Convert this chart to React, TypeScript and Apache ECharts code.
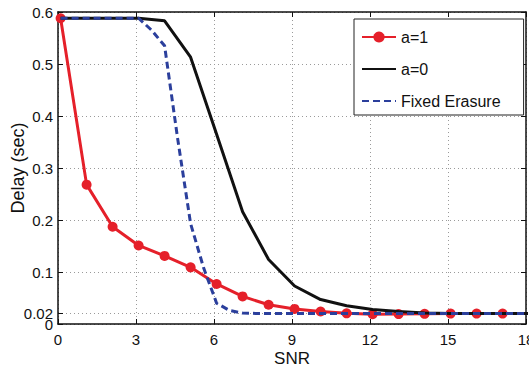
import React, { useEffect, useRef } from "react";
import * as echarts from "echarts";

const snr = [0.1, 1.1, 2.1, 3.1, 4.1, 5.1, 6.1, 7.1, 8.1, 9.1, 10.1, 11.1, 12.1, 13.1, 14.1, 15.1, 16.1, 17.1, 18.1];
const delayA1 = [0.588, 0.268, 0.187, 0.151, 0.131, 0.109, 0.077, 0.053, 0.037, 0.029, 0.024, 0.0205, 0.0188, 0.019, 0.0195, 0.02, 0.02, 0.02, 0.02];
const delayA0 = [0.588, 0.588, 0.588, 0.588, 0.583, 0.513, 0.365, 0.216, 0.124, 0.073, 0.047, 0.035, 0.028, 0.024, 0.021, 0.02, 0.02, 0.02, 0.02];
const snrFixed = [0.1, 1.1, 2.1, 3.1, 3.6, 4.1, 4.6, 5.1, 5.6, 6.1, 6.6, 7.1, 7.6, 8.1, 9.1, 10.1, 11.1, 12.1, 13.1, 14.1, 15.1, 16.1, 17.1, 18.1];
const delayFixed = [0.588, 0.588, 0.588, 0.588, 0.565, 0.535, 0.357, 0.193, 0.108, 0.04, 0.026, 0.021, 0.0203, 0.02, 0.02, 0.02, 0.02, 0.02, 0.02, 0.02, 0.02, 0.02, 0.02, 0.02];
const yTicks = [0, 0.1, 0.2, 0.3, 0.4, 0.5, 0.6];
const yExtraTicks = [0.02];
const yAllTicks = [0, 0.02, 0.1, 0.2, 0.3, 0.4, 0.5, 0.6];
const seriesNames = ["a=1", "a=0", "Fixed Erasure"];

const pairs = (xs: number[], ys: number[]) => xs.map((x, i) => [x, ys[i]]);

const SANS = "Liberation Sans, Arial, sans-serif";

export default function App() {
  const ref = useRef<HTMLDivElement>(null);
  useEffect(() => {
    if (!ref.current) return;
    const chart = echarts.init(ref.current, undefined, { renderer: "svg" });
    const grid = "#9a9a9a";
    const hiddenSymbol = { opacity: 0, color: "transparent", borderWidth: 0 };
    const labelStyle = { fontFamily: SANS, fontSize: 15, color: "#111", margin: 5, hideOverlap: false };
    const splitStyle = { show: true, lineStyle: { color: grid, type: [1, 3], width: 1 } };
    chart.setOption({
      animation: false,
      backgroundColor: "#fff",
      grid: { left: 58, right: 3, top: 12, bottom: 44, containLabel: false, outerBoundsMode: "none" },
      legend: {
        orient: "vertical",
        left: 354,
        top: 19,
        data: [
          { name: seriesNames[0] },
          { name: seriesNames[1], itemStyle: hiddenSymbol },
          { name: seriesNames[2], itemStyle: hiddenSymbol },
        ],
        itemWidth: 34,
        itemHeight: 14,
        itemGap: 16,
        padding: [10, 23, 6, 7],
        borderColor: "#222",
        borderWidth: 1,
        backgroundColor: "#fff",
        textStyle: { fontFamily: SANS, fontSize: 16, color: "#111" },
      },
      xAxis: [
        {
          type: "value",
          min: 0,
          max: 18,
          interval: 3,
          name: "SNR",
          nameLocation: "middle",
          nameGap: 26,
          nameMoveOverlap: false,
          nameTextStyle: { fontFamily: SANS, fontSize: 17, color: "#111" },
          axisLine: { lineStyle: { color: "#111", width: 1.5 } },
          axisTick: { inside: true, length: 5, lineStyle: { color: "#111" } },
          axisLabel: { ...labelStyle, margin: 8 },
          splitLine: splitStyle,
        },
        {
          type: "value",
          position: "top",
          min: 0,
          max: 18,
          interval: 3,
          axisLine: { show: true, onZero: false, lineStyle: { color: "#111", width: 1.5 } },
          axisTick: { show: true, inside: true, length: 5, lineStyle: { color: "#111" } },
          axisLabel: { show: false },
          splitLine: { show: false },
        },
      ],
      yAxis: [
        {
          type: "value",
          min: 0,
          max: 0.6,
          name: "Delay (sec)",
          nameLocation: "middle",
          nameGap: 31,
          nameMoveOverlap: false,
          nameTextStyle: { fontFamily: SANS, fontSize: 18, color: "#111" },
          axisLine: { show: true, lineStyle: { color: "#111", width: 1.5 } },
          axisTick: { show: true, inside: true, length: 5, customValues: yTicks, lineStyle: { color: "#111" } },
          axisLabel: { ...labelStyle, customValues: yTicks, showMinLabel: true, showMaxLabel: true },
          splitLine: splitStyle,
        },
        {
          type: "value",
          position: "right",
          min: 0,
          max: 0.6,
          axisLine: { show: true, onZero: false, lineStyle: { color: "#111", width: 1.5 } },
          axisTick: { show: true, inside: true, length: 5, customValues: yAllTicks, lineStyle: { color: "#111" } },
          axisLabel: { show: false },
          splitLine: { show: false },
        },
        {
          type: "value",
          position: "left",
          offset: 0,
          min: 0,
          max: 0.6,
          axisLine: { show: false, onZero: false },
          axisTick: { show: true, inside: true, length: 5, customValues: yExtraTicks, lineStyle: { color: "#111" } },
          axisLabel: { ...labelStyle, customValues: yExtraTicks, showMinLabel: true, showMaxLabel: true },
          splitLine: splitStyle,
        },
      ],
      series: [
        {
          name: seriesNames[0],
          type: "line",
          data: pairs(snr, delayA1),
          symbol: "circle",
          symbolSize: 10,
          color: "#e5202a",
          lineStyle: { width: 3, color: "#e5202a" },
          itemStyle: { color: "#e5202a" },
          clip: true,
          z: 2,
        },
        {
          name: seriesNames[1],
          type: "line",
          data: pairs(snr, delayA0),
          symbol: "none",
          color: "#111",
          lineStyle: { width: 3, color: "#111" },
          clip: true,
          z: 3,
        },
        {
          name: seriesNames[2],
          type: "line",
          data: pairs(snrFixed, delayFixed),
          symbol: "none",
          color: "#2b3f9c",
          lineStyle: { width: 3, color: "#2b3f9c", type: [7, 4] },
          clip: true,
          z: 4,
        },
      ],
    });
    return () => chart.dispose();
  }, []);
  return (
    <div
      ref={ref}
      style={{ position: "fixed", left: 0, top: 0, width: 529, height: 368 }}
    />
  );
}
